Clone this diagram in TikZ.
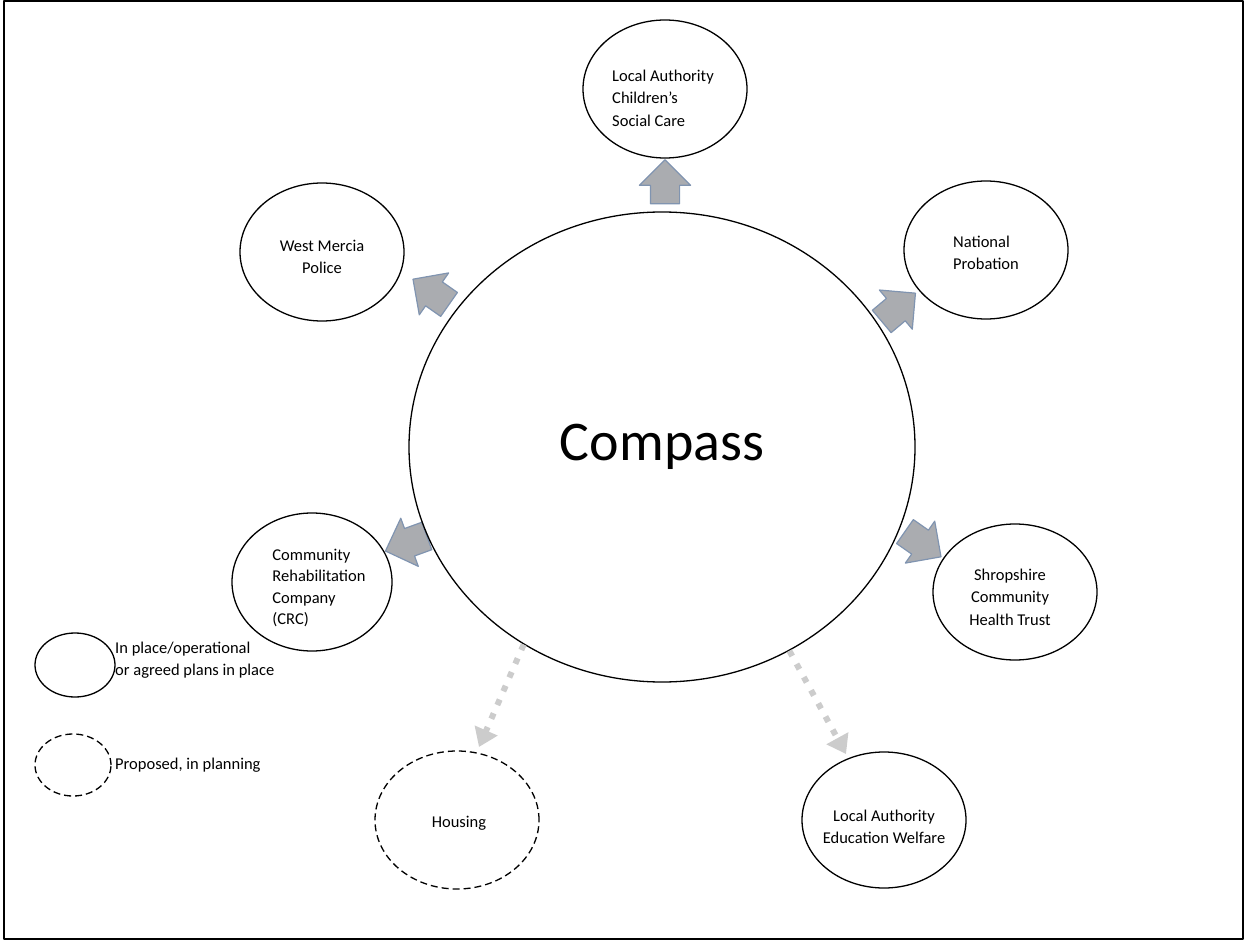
\documentclass[tikz,border=0pt]{standalone}
\usepackage{fontspec}
\setmainfont{Carlito}
\usetikzlibrary{shapes.geometric,shapes.arrows,arrows.meta}

\definecolor{arrowfill}{RGB}{170,172,176}
\definecolor{arrowline}{RGB}{128,148,176}
\definecolor{dotgray}{RGB}{204,204,204}

\begin{document}
\begin{tikzpicture}[x=1pt, y=-1pt, line join=round,
    agency/.style={ellipse, draw, line width=1.3pt, minimum width=164pt, minimum height=138pt, inner sep=0pt},
    planned/.style={agency, dashed, dash pattern=on 7pt off 4pt},
    label text/.style={inner sep=0pt, align=center, font=\fontsize{16.5}{22.5}\selectfont},
    link/.style={single arrow, draw=arrowline, fill=arrowfill, line width=1.2pt,
      minimum height=44pt, minimum width=50pt, inner sep=14pt, single arrow head extend=11pt},
    proposal/.style={dotgray, line width=6pt, dash pattern=on 6pt off 9pt,
      -{Triangle[length=18pt, width=24pt]}},
    legtext/.style={label text, anchor=west, align=left}]
  \useasboundingbox (0,0) rectangle (1247,941);
  % frame
  \draw[line width=2pt] (4,1) rectangle (1243,939);
  % block arrows
  \node[link, rotate=90] (a1) at (665,189) {};
  \node[link, rotate=145] (a2) at (437,296) {};
  \node[link, rotate=40] (a3) at (893,312) {};
  \node[link, rotate=200] (a4) at (413,541) {};
  \node[link, rotate=-35] (a5) at (917,540) {};
  % compass
  \node[ellipse, draw, line width=1.3pt, minimum width=506pt, minimum height=470pt,
    font=\fontsize{56}{60}\selectfont] (compass) at (662,447) {Compass};
  % agencies
  \node[agency] (children) at (665,89) {};
  \node[agency] (police) at (322,252) {};
  \node[agency] (probation) at (986,250) {};
  \node[agency, minimum width=160pt] (crc) at (312,582) {};
  \node[agency, minimum height=136pt] (health) at (1015,592) {};
  \node[planned] (housing) at (457,820) {};
  \node[agency, minimum height=136pt] (education) at (884,820) {};
  % agency names
  \node[label text, align=left] at ([shift={(-2,9)}]children) (children text) {Local Authority\\Children's\\Social Care};
  \node[label text] at ([shift={(0,5)}]police) (police text) {West Mercia\\Police};
  \node[label text, align=left] at ([shift={(0,3)}]probation) (probation text) {National\\Probation};
  \node[label text, align=left, font=\fontsize{16.5}{21.5}\selectfont] at ([shift={(7,6)}]crc) (crc text)
    {Community\\Rehabilitation\\Company\\(CRC)};
  \node[label text] at ([shift={(-5,5)}]health) (health text) {Shropshire\\Community\\Health Trust};
  \node[label text] at ([shift={(2,3)}]housing) (housing text) {Housing};
  \node[label text] at ([shift={(0,7)}]education) (education text) {Local Authority\\Education Welfare};
  % proposed links
  \coordinate (htip) at (479,747);
  \coordinate (etip) at (846,754);
  \draw[proposal] (compass.235) -- (htip);
  \draw[proposal] (compass.302) -- (etip);
  % legend
  \node[ellipse, draw, line width=1.3pt, minimum width=80pt, minimum height=64pt] (keysolid) at (75,665) {};
  \node[ellipse, draw, line width=1.3pt, dashed, dash pattern=on 7pt off 4pt,
    minimum width=76pt, minimum height=62pt] (keydash) at (73,765) {};
  \node[legtext] (keysolid text) at (115,660) {In place/operational\\or agreed plans in place};
  \node[legtext] (keydash text) at (115,765) {Proposed, in planning};
\end{tikzpicture}
\end{document}
